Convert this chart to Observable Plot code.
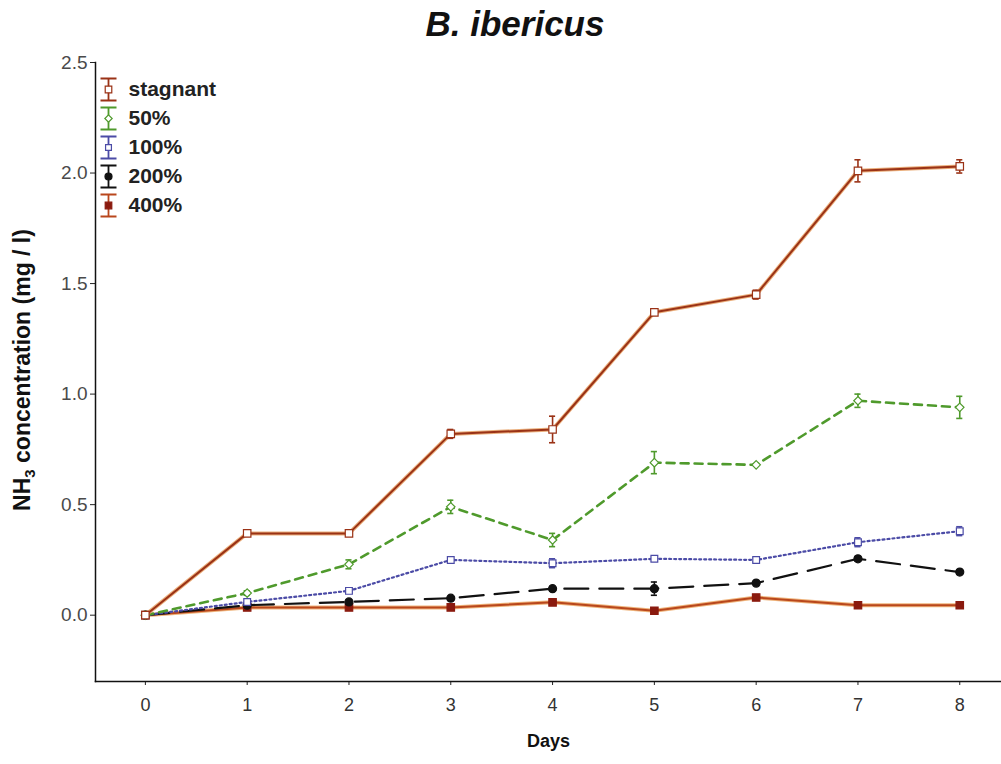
<!DOCTYPE html>
<html>
<head>
<meta charset="utf-8">
<script src="https://cdn.jsdelivr.net/npm/d3@7"></script>
<script src="https://cdn.jsdelivr.net/npm/@observablehq/plot@0.6"></script>
<style>
  body { margin: 0; background: #fff; font-family: "Liberation Sans", Arial, sans-serif; }
  #wrap { position: relative; width: 1001px; height: 764px; overflow: hidden; background: #fff; }
  #title { position: absolute; left: 0; top: 2px; width: 1030px; text-align: center;
           font-size: 35px; font-weight: bold; font-style: italic; line-height: 44px; color: #111; }
  #chart { position: absolute; left: 0; top: 50px; }
  #legend { position: absolute; left: 100px; top: 72px; }
  #ylabel { position: absolute; left: 22px; top: 370px; white-space: nowrap;
            transform: translate(-50%, -50%) rotate(-90deg);
            font-size: 23px; font-weight: bold; color: #111; line-height: 1; }
  #ylabel sub { font-size: 15px; vertical-align: -5px; line-height: 0; }
</style>
</head>
<body>
<div id="wrap">
  <div id="title">B. ibericus</div>
  <div id="chart"></div>
  <div id="legend"></div>
  <div id="ylabel">NH<sub>3</sub> concentration (mg / l)</div>
</div>
<script>
// Ammonia concentration by day for each flow treatment
const days = [0, 1, 2, 3, 4, 5, 6, 7, 8];
const seriesNames = ["stagnant", "50%", "100%", "200%", "400%"];

const stagnant    = [0, 0.37, 0.37, 0.82, 0.84, 1.37, 1.45, 2.01, 2.03];
const stagnantErr = [0, 0.01, 0.01, 0.02, 0.06, 0.01, 0.02, 0.05, 0.03];
const flow50      = [0, 0.10, 0.23, 0.49, 0.34, 0.69, 0.68, 0.97, 0.94];
const flow50Err   = [0, 0.01, 0.02, 0.03, 0.03, 0.05, 0.00, 0.03, 0.05];
const flow100     = [0, 0.06, 0.11, 0.25, 0.235, 0.255, 0.25, 0.33, 0.38];
const flow100Err  = [0, 0.00, 0.01, 0.01, 0.02, 0.01, 0.01, 0.02, 0.02];
const flow200     = [0, 0.045, 0.06, 0.077, 0.12, 0.12, 0.145, 0.255, 0.195];
const flow200Err  = [0, 0.00, 0.01, 0.00, 0.01, 0.03, 0.00, 0.01, 0.01];
const flow400     = [0, 0.035, 0.035, 0.035, 0.058, 0.02, 0.08, 0.045, 0.045];
const flow400Err  = [0, 0.00, 0.00, 0.00, 0.01, 0.01, 0.01, 0.01, 0.01];

const valueArrays = [stagnant, flow50, flow100, flow200, flow400];
const errorArrays = [stagnantErr, flow50Err, flow100Err, flow200Err, flow400Err];

const yTicks = [0, 0.5, 1.0, 1.5, 2.0, 2.5];

// Visual style per treatment
const styles = {
  "stagnant": {stroke: "#9a3216", halo: "#e59a5a", width: 2, dash: null,
               symbol: "square", r: 4.2, fill: "white", dotStroke: "#9a3216"},
  "50%":      {stroke: "#4f9a2c", halo: null, width: 2.6, dash: "8,6",
               symbol: "diamond2", r: 3.8, fill: "white", dotStroke: "#4f9a2c"},
  "100%":     {stroke: "#4b4ba6", halo: null, width: 2.2, dash: "2,3",
               symbol: "square", r: 3.8, fill: "white", dotStroke: "#4b4ba6"},
  "200%":     {stroke: "#111111", halo: null, width: 2.2, dash: "24,11",
               symbol: "circle", r: 4, fill: "#111111", dotStroke: "#111111"},
  "400%":     {stroke: "#b9471c", halo: "#eaa05a", width: 2, dash: null,
               symbol: "square", r: 4.2, fill: "#8a1a0e", dotStroke: "#8a1a0e"}
};

const rows = [];
seriesNames.forEach((name, i) => {
  days.forEach((day, j) => {
    rows.push({series: name, day, value: valueArrays[i][j], err: errorArrays[i][j]});
  });
});

const font = "'Liberation Sans', Arial, sans-serif";
const marks = [];

// axes
marks.push(Plot.axisY({ticks: yTicks, tickFormat: d3.format(".1f"), tickSize: 5, tickPadding: 3,
  fontSize: 19, fill: "#4a4a4a", label: null}));
marks.push(Plot.axisX({ticks: days, tickFormat: d3.format("d"), tickSize: 4, tickPadding: 13,
  fontSize: 18, fill: "#333", label: null}));
marks.push(Plot.frame({anchor: "left", stroke: "#111", strokeWidth: 1.5}));
marks.push(Plot.frame({anchor: "bottom", stroke: "#111", strokeWidth: 1.5}));

// x axis title
marks.push(Plot.text(["Days"], {frameAnchor: "bottom", dy: 65, fontSize: 18, fontWeight: "bold", fill: "#111"}));

// series lines, drawn back to front
const drawOrder = ["400%", "200%", "100%", "50%", "stagnant"];
for (const name of drawOrder) {
  const s = styles[name];
  const data = rows.filter(d => d.series === name);
  if (s.halo) marks.push(Plot.line(data, {x: "day", y: "value", stroke: s.halo, strokeWidth: s.width + 2, strokeOpacity: 0.8}));
  marks.push(Plot.line(data, {x: "day", y: "value", stroke: s.stroke, strokeWidth: s.width,
    strokeDasharray: s.dash}));
  const withErr = data.filter(d => d.err > 0);
  marks.push(Plot.ruleX(withErr, {x: "day", y1: d => d.value - d.err, y2: d => d.value + d.err,
    stroke: s.dotStroke, strokeWidth: 1.6}));
  marks.push(Plot.ruleY(withErr, {y: d => d.value - d.err, x1: d => d.day - 0.03, x2: d => d.day + 0.03,
    stroke: s.dotStroke, strokeWidth: 1.6}));
  marks.push(Plot.ruleY(withErr, {y: d => d.value + d.err, x1: d => d.day - 0.03, x2: d => d.day + 0.03,
    stroke: s.dotStroke, strokeWidth: 1.6}));
  marks.push(Plot.dot(data, {x: "day", y: "value", symbol: s.symbol, r: s.r, fill: s.fill,
    stroke: s.dotStroke, strokeWidth: 1.2}));
}

const chart = Plot.plot({
  width: 1001, height: 714,
  marginTop: 12, marginBottom: 83, marginLeft: 95, marginRight: 0,
  x: {domain: [-0.49, 8.41]},
  y: {domain: [-0.3, 2.5]},
  style: {fontFamily: font, background: "white", color: "#222"},
  marks
});
document.getElementById("chart").appendChild(chart);

// legend: error-bar glyph with the series marker, followed by the label
const barGlyph = {
  draw(context) {
    context.moveTo(-8, -11); context.lineTo(8, -11);
    context.moveTo(0, -11); context.lineTo(0, 11);
    context.moveTo(-8, 11); context.lineTo(8, 11);
  }
};
const legendMarks = [];
for (const name of seriesNames) {
  const s = styles[name];
  legendMarks.push(Plot.dot([name], {x: () => 0.5, y: d => d, symbol: barGlyph, fill: "none",
    stroke: s.stroke, strokeWidth: 1.8}));
  legendMarks.push(Plot.dot([name], {x: () => 0.5, y: d => d, symbol: s.symbol, r: s.r - 0.5,
    fill: s.fill, stroke: s.dotStroke, strokeWidth: 1.2}));
}
legendMarks.push(Plot.text(seriesNames, {x: () => 1, y: d => d, text: d => d, dx: 12, textAnchor: "start",
  fontSize: 21, fontWeight: "bold", fill: "#222"}));

const legend = Plot.plot({
  width: 140, height: 150,
  margin: 0,
  x: {domain: [0, 1], range: [0, 16], axis: null},
  y: {type: "point", domain: seriesNames, range: [15, 134], padding: 0, axis: null},
  style: {fontFamily: font, background: "transparent", overflow: "visible"},
  marks: legendMarks
});
document.getElementById("legend").appendChild(legend);
</script>
</body>
</html>
